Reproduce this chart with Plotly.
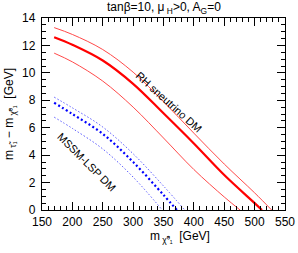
import plotly.graph_objects as go

# RH sneutrino DM band (red)
red_mid_x = [170, 200, 250, 300, 350, 400, 450, 500, 512]
red_mid_y = [12.6, 12.05, 10.9, 9.2, 7.05, 4.85, 2.55, 0.5, 0.0]
red_up_x = [170, 200, 250, 300, 350, 400, 450, 500, 528]
red_up_y = [13.3, 12.8, 11.7, 10.05, 7.9, 5.6, 3.35, 1.25, 0.0]
red_lo_x = [170, 200, 250, 300, 350, 400, 450, 476]
red_lo_y = [11.44, 10.8, 9.4, 7.5, 5.25, 2.95, 0.95, 0.0]

# MSSM-LSP DM band (blue)
blue_mid_x = [170, 200, 250, 300, 350, 372]
blue_mid_y = [7.82, 7.0, 5.55, 3.5, 1.1, 0.0]
blue_up_x = [170, 200, 250, 300, 350, 385]
blue_up_y = [8.23, 7.45, 6.05, 4.1, 1.75, 0.0]
blue_lo_x = [170, 200, 250, 300, 348]
blue_lo_y = [6.77, 5.95, 4.45, 2.4, 0.0]

x_ticks = [150, 200, 250, 300, 350, 400, 450, 500, 550]
y_ticks = [0, 2, 4, 6, 8, 10, 12, 14]

FONT = "Liberation Sans, Arial, sans-serif"

fig = go.Figure()
def add(x, y, color, width, dash="solid"):
    fig.add_trace(go.Scatter(x=x, y=y, mode="lines",
                             line=dict(color=color, width=width, dash=dash, shape="spline", smoothing=1.0),
                             showlegend=False, hoverinfo="skip"))

add(red_up_x, red_up_y, "#ff4a4a", 1)
add(red_lo_x, red_lo_y, "#ff4a4a", 1)
add(red_mid_x, red_mid_y, "#ff0000", 2.2)
add(blue_up_x, blue_up_y, "#5a5aff", 1, "1.5px,2px")
add(blue_lo_x, blue_lo_y, "#5a5aff", 1, "1.5px,2px")
add(blue_mid_x, blue_mid_y, "#0000ff", 2.2, "2px,2.5px")

axis_common = dict(showline=True, linecolor="black", linewidth=1.3, mirror="ticks",
                   ticks="inside", tickcolor="black", tickwidth=1.3, ticklen=8,
                   showgrid=False, zeroline=False, automargin=False,
                   tickfont=dict(family=FONT, size=12, color="black"))

fig.update_xaxes(range=[150, 550], tickvals=x_ticks, ticktext=[str(v) for v in x_ticks],
                 minor=dict(dtick=10, ticklen=4, ticks="inside", tickcolor="black", tickwidth=1, showgrid=False),
                 **axis_common)
fig.update_yaxes(range=[0, 14], tickvals=y_ticks, ticktext=[str(v) for v in y_ticks],
                 ticklabelstandoff=3,
                 minor=dict(dtick=0.5, ticklen=4, ticks="inside", tickcolor="black", tickwidth=1, showgrid=False),
                 **axis_common)

fig.add_annotation(text="RH sneutrino DM", x=359, y=7.9, xref="x", yref="y",
                   textangle=42, showarrow=False, font=dict(family=FONT, size=11, color="black"))
fig.add_annotation(text="MSSM-LSP DM", x=223.6, y=3.5, xref="x", yref="y",
                   textangle=45, showarrow=False, font=dict(family=FONT, size=11, color="black"))

fig.add_annotation(text="tanβ=10, μ<sub> H</sub>>0, A<sub>G</sub>=0", x=0.5, y=1.0, xref="paper", yref="paper",
                   xanchor="center", yanchor="middle", yshift=10,
                   showarrow=False, font=dict(family=FONT, size=12, color="black"))
fig.add_annotation(text="m<sub> χ̃⁰₁</sub>  [GeV]", x=0.567, y=0, xref="paper", yref="paper",
                   xanchor="center", yanchor="middle", yshift=-27,
                   showarrow=False, font=dict(family=FONT, size=12, color="black"))
fig.add_annotation(text="m<sub> τ̃₁</sub> − m<sub> χ̃⁰₁</sub>  [GeV]", x=0, y=0.5, xref="paper", yref="paper",
                   xanchor="center", yanchor="middle", xshift=-32, textangle=-90,
                   showarrow=False, font=dict(family=FONT, size=12, color="black"))

fig.update_layout(width=298, height=253, margin=dict(l=42, r=13, t=18, b=43),
                  paper_bgcolor="white", plot_bgcolor="white")
fig.write_html("out.html", config={"displayModeBar": False},
               post_script="document.body.style.margin='0';document.body.style.overflow='hidden';")
